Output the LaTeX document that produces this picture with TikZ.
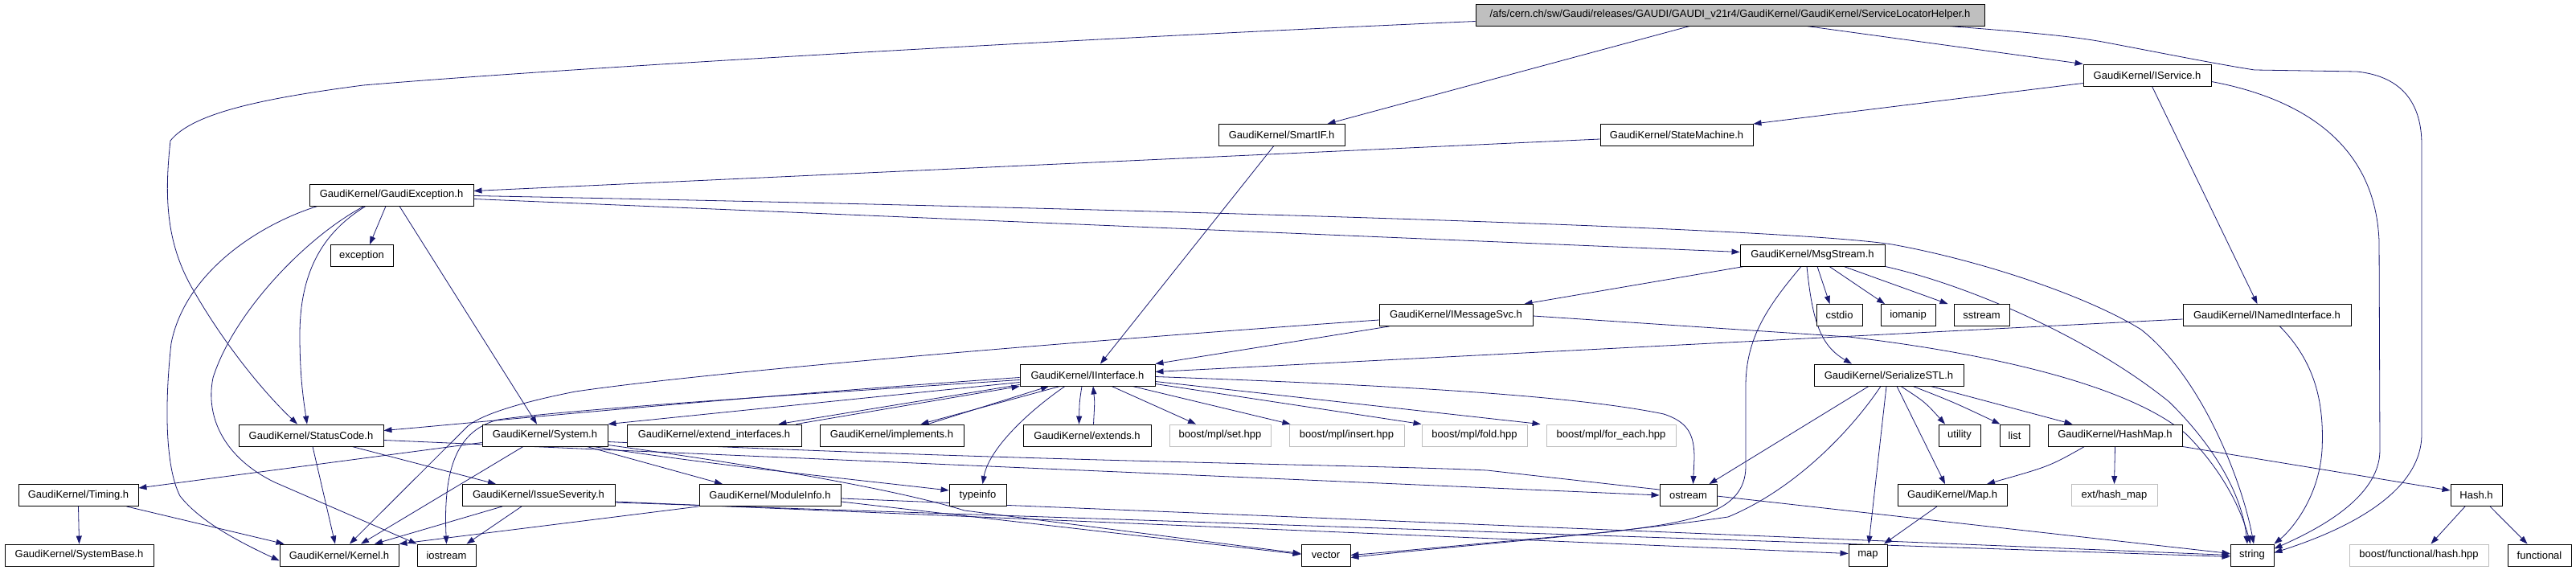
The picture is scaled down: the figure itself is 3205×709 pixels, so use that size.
\documentclass[tikz,border=0pt]{standalone}
\usepackage{fontspec}
\setmainfont{Liberation Sans}
\usetikzlibrary{arrows.meta}
\definecolor{edgeblue}{HTML}{191970}
\definecolor{rootgray}{HTML}{BFBFBF}
\pgfdeclarelayer{bg}
\pgfsetlayers{bg,main}
\tikzset{
  box/.style={draw=black, line width=0.9pt, fill=white, inner sep=0pt, minimum height=27pt, font=\fontsize{13}{15}\selectfont},
  gbox/.style={box, draw=rootgray, line width=0.9pt},
  rootbox/.style={box, fill=rootgray},
  e/.style={draw=edgeblue, line width=0.8pt, -{Triangle[length=10pt,width=7pt]}}
}
\begin{document}
\begin{tikzpicture}[x=1pt,y=-1pt]
\useasboundingbox (0,0) rectangle (3205,709);
% nodes
\node[rootbox, minimum width=633pt] (root) at (2152.5,18.5) {/afs/cern.ch/sw/Gaudi/releases/GAUDI/GAUDI\_v21r4/GaudiKernel/GaudiKernel/ServiceLocatorHelper.h};
\node[box, minimum width=157pt] (smartif) at (1594.5,168) {GaudiKernel/SmartIF.h};
\node[box, minimum width=190pt] (statem) at (2086,168) {GaudiKernel/StateMachine.h};
\node[box, minimum width=159pt] (iserv) at (2671.5,93.5) {GaudiKernel/IService.h};
\node[box, minimum width=204pt] (gexc) at (487,242.5) {GaudiKernel/GaudiException.h};
\node[box, minimum width=78pt] (exc) at (450,318) {exception};
\node[box, minimum width=180pt] (msgs) at (2255,317.5) {GaudiKernel/MsgStream.h};
\node[box, minimum width=191pt] (imsg) at (1811.5,392) {GaudiKernel/IMessageSvc.h};
\node[box, minimum width=57pt] (cstdio) at (2288.5,392) {cstdio};
\node[box, minimum width=68pt] (iomanip) at (2374,392) {iomanip};
\node[box, minimum width=69pt] (sstream) at (2465.5,392) {sstream};
\node[box, minimum width=209pt] (inamed) at (2820.5,392) {GaudiKernel/INamedInterface.h};
\node[box, minimum width=168pt] (iint) at (1353,466.5) {GaudiKernel/IInterface.h};
\node[box, minimum width=186pt] (ser) at (2350,466.5) {GaudiKernel/SerializeSTL.h};
\node[box, minimum width=180pt] (stc) at (387,541.5) {GaudiKernel/StatusCode.h};
\node[box, minimum width=156pt] (sys) at (678,541.5) {GaudiKernel/System.h};
\node[box, minimum width=217pt] (extint) at (888.5,541.5) {GaudiKernel/extend\_interfaces.h};
\node[box, minimum width=179pt] (impl) at (1109.5,541.5) {GaudiKernel/implements.h};
\node[box, minimum width=159pt] (extends) at (1352.5,541.5) {GaudiKernel/extends.h};
\node[gbox, minimum width=126pt] (bset) at (1518,541.5) {boost/mpl/set.hpp};
\node[gbox, minimum width=143pt] (binsert) at (1675.5,541.5) {boost/mpl/insert.hpp};
\node[gbox, minimum width=131pt] (bfold) at (1834.5,541.5) {boost/mpl/fold.hpp};
\node[gbox, minimum width=161pt] (bforeach) at (2004.5,541.5) {boost/mpl/for\_each.hpp};
\node[box, minimum width=52pt] (utility) at (2438,541.5) {utility};
\node[box, minimum width=37pt] (list) at (2506.5,541.5) {list};
\node[box, minimum width=167pt] (hashmap) at (2631.5,541.5) {GaudiKernel/HashMap.h};
\node[box, minimum width=149pt] (timing) at (97.5,616) {GaudiKernel/Timing.h};
\node[box, minimum width=190pt] (issue) at (670,616) {GaudiKernel/IssueSeverity.h};
\node[box, minimum width=176pt] (modinfo) at (958,616) {GaudiKernel/ModuleInfo.h};
\node[box, minimum width=71pt] (typeinfo) at (1216.5,616) {typeinfo};
\node[box, minimum width=71pt] (ostream) at (2100.5,616) {ostream};
\node[box, minimum width=136pt] (maph) at (2429,616) {GaudiKernel/Map.h};
\node[gbox, minimum width=107pt] (hashmapx) at (2630.5,616) {ext/hash\_map};
\node[box, minimum width=64pt] (hashh) at (3081,616) {Hash.h};
\node[box, minimum width=185pt] (sysbase) at (98.5,690.5) {GaudiKernel/SystemBase.h};
\node[box, minimum width=148pt] (kernel) at (422,690.5) {GaudiKernel/Kernel.h};
\node[box, minimum width=73pt] (iostream) at (555.5,690.5) {iostream};
\node[box, minimum width=61pt] (vector) at (1649.5,690.5) {vector};
\node[box, minimum width=48pt] (map) at (2324,690.5) {map};
\node[box, minimum width=54pt] (string) at (2802,690.5) {string};
\node[gbox, minimum width=173pt] (bhash) at (3009.5,690.5) {boost/functional/hash.hpp};
\node[box, minimum width=79pt] (functional) at (3159.5,690.5) {functional};
% edges
\begin{pgfonlayer}{bg}
\draw[e] ([yshift=-8pt]root.west) .. controls (1300,50) and (700,85) .. (452,106) .. controls (330,122) and (240,140) .. (212,175) .. controls (205,240) and (205,300) .. (240,360) .. controls (280,430) and (330,490) .. ([xshift=-17pt]stc.north);
\draw[e] ([xshift=-50pt]root.south) -- ([xshift=57pt]smartif.north);
\draw[e] ([xshift=95pt]root.south) -- (iserv.north west);
\draw[e] ([xshift=272pt]root.south) .. controls (2520,40) and (2580,45) .. (2621,53) .. controls (2700,68) and (2760,80) .. (2805,87) -- (2932,89) .. controls (2990,95) and (3013,130) .. (3013,180) -- (3013,540) .. controls (3013,620) and (2900,665) .. ([yshift=3pt]string.east);
\draw[e] ([xshift=-10pt]smartif.south) -- ([xshift=16pt]iint.north);
\draw[e] ([yshift=-10pt]iserv.west) -- (statem.north east);
\draw[e] ([xshift=6pt]iserv.south) -- ([xshift=-12pt]inamed.north);
\draw[e] ([yshift=-8pt]iserv.east) .. controls (2850,120) and (2955,170) .. (2960,300) -- (2961,560) .. controls (2961,620) and (2880,660) .. ([yshift=8pt]string.east);
\draw[e] ([yshift=-5pt]statem.west) -- ([yshift=5pt]gexc.east);
\draw[e] ([yshift=-5pt]gexc.east) -- ([yshift=4pt]msgs.west);
\draw[e] ([yshift=-1pt]gexc.east) .. controls (1200,255) and (2200,280) .. (2354,304) .. controls (2470,325) and (2600,370) .. (2664,410) .. controls (2740,470) and (2790,600) .. ([xshift=2pt]string.north);
\draw[e] ([xshift=-7pt]gexc.south) -- ([xshift=10pt]exc.north);
\draw[e] ([xshift=10pt]gexc.south) -- ([xshift=-10pt]sys.north);
\draw[e] ([xshift=-32pt]gexc.south) .. controls (400,290) and (373,340) .. (373,417) .. controls (373,470) and (378,500) .. ([xshift=-5pt]stc.north);
\draw[e] ([xshift=-34pt]gexc.south) .. controls (380,295) and (290,390) .. (265,470) .. controls (255,520) and (280,570) .. (342,600) -- (iostream.north west);
\draw[e] ([xshift=-92pt]gexc.south) .. controls (320,280) and (230,340) .. (213,427) .. controls (205,500) and (205,580) .. (224,617) .. controls (250,650) and (300,675) .. ([yshift=-7pt]kernel.west);
\draw[e] ([xshift=-85pt]msgs.south) -- ([xshift=85pt]imsg.north);
\draw[e] ([xshift=-14pt]msgs.south) .. controls (2200,380) and (2172,420) .. (2172,480) -- (2172,580) .. controls (2172,640) and (2100,650) .. (2000,662) .. controls (1850,675) and (1750,685) .. (vector.east);
\draw[e] ([xshift=-7pt]msgs.south) .. controls (2255,400) and (2265,430) .. ([xshift=-46pt]ser.north);
\draw[e] ([xshift=6pt]msgs.south) -- ([xshift=-12pt]cstdio.north);
\draw[e] ([xshift=21pt]msgs.south) -- ([xshift=-29pt]iomanip.north);
\draw[e] ([xshift=39pt]msgs.south) -- ([xshift=-42pt]sstream.north);
\draw[e] (msgs.south east) .. controls (2450,355) and (2600,420) .. (2699,500) .. controls (2760,560) and (2790,620) .. ([xshift=-6pt]string.north);
\draw[e] ([xshift=-83pt]imsg.south) -- (iint.north east);
\draw[e] ([yshift=-1pt]imsg.east) -- (2300,419) .. controls (2480,440) and (2650,480) .. (2720,540) .. controls (2770,590) and (2790,640) .. ([xshift=-2pt]string.north);
\draw[e] ([yshift=-6pt]imsg.west) .. controls (1400,420) and (900,460) .. (716,487) .. controls (650,500) and (600,515) .. (582,530) -- ([xshift=13pt]kernel.north);
\draw[e] ([yshift=-6pt]iint.west) .. controls (1000,490) and (700,510) .. (620,522) .. controls (570,535) and (551,580) .. (iostream.north);
\draw[e] ([yshift=-5pt]inamed.west) -- ([yshift=4pt]iint.east);
\draw[e] ([xshift=16pt]inamed.south) .. controls (2880,450) and (2892,500) .. (2889,560) .. controls (2885,620) and (2850,660) .. (string.north east);
\draw[e] ([yshift=-3pt]iint.west) .. controls (900,495) and (600,525) .. ([yshift=6pt]stc.east);
\draw[e] ([yshift=-9pt]iint.west) -- (sys.north east);
\draw[e] ([yshift=-12pt]iint.west) -- ([xshift=80pt]extint.north);
\draw[e] ([xshift=102pt]extint.north) -- (iint.south west);
\draw[e] ([xshift=45pt]impl.north) -- ([xshift=-48pt]iint.south);
\draw[e] ([xshift=-34pt]iint.south) -- ([xshift=36pt]impl.north);
\draw[e] ([xshift=-7pt]iint.south) .. controls (1343,500) .. ([xshift=-10pt]extends.north);
\draw[e] ([xshift=8pt]extends.north) .. controls (1362,500) .. ([xshift=7pt]iint.south);
\draw[e] ([xshift=-28pt]iint.south) .. controls (1275,515) and (1230,560) .. ([xshift=6pt]typeinfo.north);
\draw[e] ([xshift=30pt]iint.south) -- ([xshift=-30pt]bset.north);
\draw[e] ([xshift=56pt]iint.south) -- ([xshift=-70pt]binsert.north);
\draw[e] ([yshift=-11pt]iint.east) -- ([xshift=-66pt]bfold.north);
\draw[e] ([yshift=-8pt]iint.east) -- ([xshift=-88pt]bforeach.north);
\draw[e] ([yshift=-2pt]iint.east) .. controls (1700,478) and (1950,490) .. (2070,515) .. controls (2100,525) and (2108,540) .. (2108,570) -- ([xshift=6pt]ostream.north);
\draw[e] ([yshift=-9pt]sys.west) -- ([yshift=9pt]timing.east);
\draw[e] ([xshift=-27pt]sys.south) -- ([xshift=27pt]kernel.north);
\draw[e] ([xshift=52pt]sys.south) -- ([xshift=-59pt]modinfo.north);
\draw[e] ([xshift=60pt]sys.south) .. controls (900,580) and (1050,595) .. ([yshift=6pt]typeinfo.west);
\draw[e] ([yshift=-8pt]sys.east) .. controls (1300,575) and (1700,578) .. (1850,585) -- ([yshift=2pt]string.west);
\draw[e] ([yshift=-12pt]sys.east) .. controls (950,580) and (1120,610) .. (1200,635) -- ([yshift=2pt]vector.west);
\draw[e] (timing.south) -- (sysbase.north);
\draw[e] ([xshift=60pt]timing.south) -- ([xshift=6pt]kernel.north west);
\draw[e] ([xshift=2pt]stc.south) -- ([xshift=-5pt]kernel.north);
\draw[e] ([xshift=51pt]stc.south) -- ([xshift=-53pt]issue.north);
\draw[e] ([yshift=-6pt]stc.east) -- (ostream.west);
\draw[e] ([xshift=-45pt]issue.south) -- ([xshift=44pt]kernel.north);
\draw[e] ([xshift=-21pt]issue.south) -- ([xshift=25pt]iostream.north);
\draw[e] ([yshift=-8pt]issue.east) -- ([yshift=2pt]map.west);
\draw[e] ([yshift=-9pt]issue.east) -- ([yshift=-2pt]string.west);
\draw[e] (modinfo.south west) -- (kernel.north east);
\draw[e] ([yshift=-4pt]modinfo.east) -- (string.west);
\draw[e] ([yshift=-8pt]modinfo.east) -- ([yshift=1pt]vector.west);
\draw[e] ([xshift=-25pt]ser.south) -- ([xshift=26pt]ostream.north);
\draw[e] ([xshift=-10pt]ser.south) .. controls (2300,540) and (2230,610) .. (2150,643) .. controls (2000,665) and (1800,680) .. ([yshift=-3pt]vector.east);
\draw[e] ([xshift=-3pt]ser.south) -- ([xshift=1pt]map.north);
\draw[e] ([xshift=10pt]ser.south) -- ([xshift=-9pt]maph.north);
\draw[e] ([xshift=15pt]ser.south) .. controls (2395,500) .. ([xshift=-18pt]utility.north);
\draw[e] ([xshift=30pt]ser.south) .. controls (2430,500) .. ([xshift=-18pt]list.north);
\draw[e] ([xshift=52pt]ser.south) -- ([xshift=-53pt]hashmap.north);
\draw[e] ([xshift=-38pt]hashmap.south) .. controls (2550,580) .. ([xshift=43pt]maph.north);
\draw[e] (hashmap.south) -- (hashmapx.north);
\draw[e] (hashmap.south east) -- ([yshift=6pt]hashh.west);
\draw[e] ([xshift=-19pt]maph.south) -- ([xshift=20pt]map.north);
\draw[e] ([xshift=-14pt]hashh.south) -- ([xshift=15pt]bhash.north);
\draw[e] ([xshift=17pt]hashh.south) -- ([xshift=-15pt]functional.north);
\end{pgfonlayer}
\end{tikzpicture}
\end{document}
